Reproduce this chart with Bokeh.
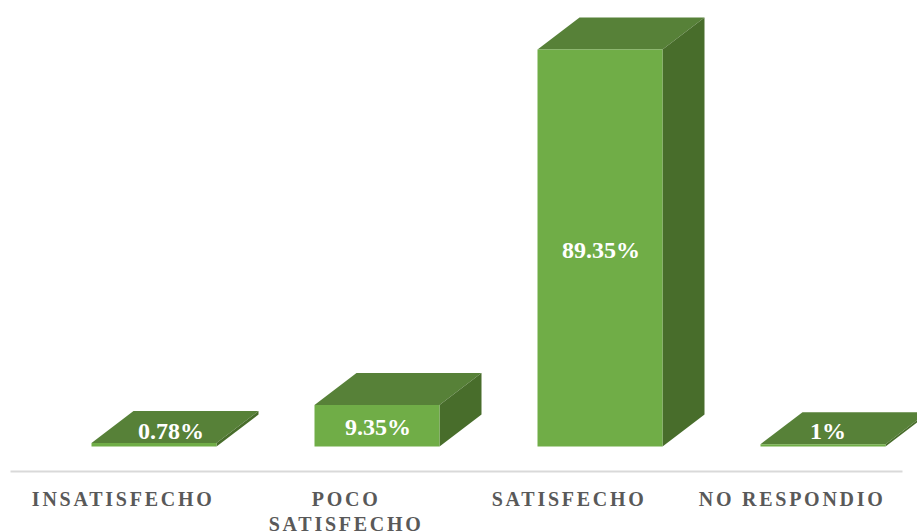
from bokeh.embed import file_html
from bokeh.resources import INLINE
from bokeh.plotting import figure
from bokeh.layouts import column
from bokeh.models import ColumnDataSource, Range1d, LinearAxis, FixedTicker
from bokeh.core.properties import value

categories = ["INSATISFECHO", "POCO\nSATISFECHO", "SATISFECHO", "NO RESPONDIO"]
values = [0.78, 9.35, 89.35, 0.52]
labels = ["0.78%", "9.35%", "89.35%", "1%"]

FRONT, TOP, SIDE = "#70AD47", "#578138", "#486D2B"
W, H_PLOT = 917, 470
PX_X = 223.0            # px per category
PX_Y = 4.443            # px per percent
LEFT, BASE = 10.0, 446.0
BAR = 125 / PX_X
SHIFT = 32 / PX_X       # front faces sit right of the category centre
DX = 42 / PX_X
DY = 32 / PX_Y
LABEL_DX = [17, 1, 1, 5]
LABEL_DY = [-14, 1, 2, -14]
SPACING = 2.75          # letter spacing of the axis labels, px

centers = [i + 0.5 for i in range(len(values))]
x0 = [c + SHIFT - BAR / 2 for c in centers]
x1 = [x + BAR for x in x0]

x_range = Range1d(-LEFT / PX_X, (W - LEFT) / PX_X)
p = figure(width=W, height=H_PLOT, x_range=x_range,
           y_range=Range1d(-(H_PLOT - BASE) / PX_Y, BASE / PX_Y),
           output_backend="svg", toolbar_location=None,
           min_border=0, outline_line_color=None, x_axis_location=None, y_axis_location=None)
p.grid.visible = False

p.patches([[a, b, b + DX, a + DX] for a, b in zip(x0, x1)],
          [[v, v, v + DY, v + DY] for v in values],
          fill_color=TOP, line_color=None)
p.patches([[b, b + DX, b + DX, b] for b in x1],
          [[0, DY, v + DY, v] for v in values],
          fill_color=SIDE, line_color=None)
p.quad(left=x0, right=x1, bottom=0, top=values, fill_color=FRONT, line_color=None)

src = ColumnDataSource(dict(x=[c + SHIFT for c in centers], y=[v / 2 for v in values], t=labels,
                            dx=LABEL_DX, dy=LABEL_DY))
p.text("x", "y", text="t", source=src, x_offset="dx", y_offset="dy",
       text_color="white", text_font=value("Liberation Serif"), text_font_style="bold",
       text_font_size="24px", text_align="center", text_baseline="middle")


def tick_row(row, standoff, line_color):
    """One row of wrapped category labels; letter spacing is not measured, so compensate."""
    lines = [(c, t.split("\n")[row]) for c, t in zip(centers, categories) if len(t.split("\n")) > row]
    ticks = [c + (1.2 - len(s) * SPACING / 2) / PX_X for c, s in lines]
    axis = LinearAxis(ticker=FixedTicker(ticks=ticks),
                      major_label_overrides={k: s for k, (_, s) in zip(ticks, lines)},
                      bounds=(0, 4))
    axis.axis_line_color = line_color
    axis.axis_line_width = 2
    axis.major_tick_line_color = None
    axis.minor_tick_line_color = None
    axis.major_label_text_color = "#595959"
    axis.major_label_text_font = "Liberation Serif"
    axis.major_label_text_font_style = "bold"
    axis.major_label_text_font_size = "20px"
    axis.major_label_standoff = standoff
    return axis


ax = figure(frame_width=W, frame_height=1, x_range=x_range, y_range=Range1d(0, 1),
            output_backend="svg", toolbar_location=None, min_border=0,
            outline_line_color=None, x_axis_location=None, y_axis_location=None)
ax.grid.visible = False
ax.add_layout(tick_row(0, 10, "#D9D9D9"), "below")
ax.add_layout(tick_row(1, -6, None), "below")
ax.styles = {"letter-spacing": f"{SPACING}px"}

page = column(p, ax, spacing=0)

open("out.html", "w").write(file_html(page, INLINE))
